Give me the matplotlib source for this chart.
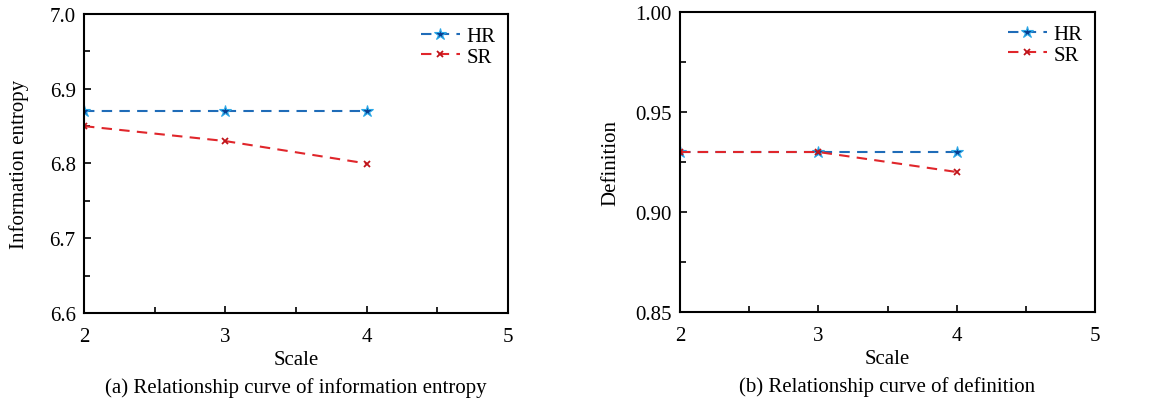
import matplotlib
matplotlib.use("Agg")
import matplotlib.pyplot as plt
from matplotlib.ticker import MultipleLocator, FormatStrFormatter

plt.rcParams['font.family'] = ['Liberation Serif', 'DejaVu Serif']

scales = [2, 3, 4]
hr_entropy = [6.87, 6.87, 6.87]
sr_entropy = [6.85, 6.83, 6.80]
hr_def = [0.93, 0.93, 0.93]
sr_def = [0.93, 0.93, 0.92]

blue = '#1f6cb8'
red = '#e0262b'
FS = 15

fig = plt.figure(figsize=(11.52, 4.02), dpi=100)
ax1 = fig.add_axes([84/1152, 1-314/402, (508-84)/1152, (314-15)/402])
ax2 = fig.add_axes([680/1152, 1-313/402, (1095-680)/1152, (313-13)/402])

def style(ax, ylim, ymajor, yminor, yfmt, ylabel, caption, ylabelpad):
    ax.set_xlim(2, 5)
    ax.set_ylim(*ylim)
    ax.xaxis.set_major_locator(MultipleLocator(1))
    ax.xaxis.set_minor_locator(MultipleLocator(0.5))
    ax.yaxis.set_major_locator(MultipleLocator(ymajor))
    ax.yaxis.set_minor_locator(MultipleLocator(yminor))
    ax.yaxis.set_major_formatter(FormatStrFormatter(yfmt))
    ax.tick_params(which='both', direction='in', top=False, right=False, labelsize=FS, width=1.2)
    ax.tick_params(which='major', length=5)
    ax.tick_params(which='minor', length=4)
    ax.tick_params(axis='x', which='major', pad=10)
    ax.tick_params(axis='y', which='major', pad=6)
    for s in ax.spines.values():
        s.set_linewidth(1.5)
    ax.set_xlabel('Scale', fontsize=FS, labelpad=3)
    ax.set_ylabel(ylabel, fontsize=FS, labelpad=ylabelpad)
    ax.text(0.5, -0.215, caption, transform=ax.transAxes, ha='center', va='top', fontsize=FS)

def draw(ax, hr, sr):
    ax.plot(scales, hr, linestyle=(0, (5, 3.5)), color=blue, lw=1.5, marker='*',
            markersize=9, markerfacecolor='#0a3d8f', markeredgecolor='#2aa8e8', markeredgewidth=0.8, label='HR')
    ax.plot(scales, sr, linestyle=(0, (5, 3.5)), color=red, lw=1.5, marker='x',
            markersize=5, markeredgecolor='#c0141a', markeredgewidth=1.3, label='SR')
    ax.legend(loc='upper right', frameon=False, fontsize=FS, handlelength=1.9,
              handletextpad=0.3, labelspacing=0.05, borderaxespad=0.3, borderpad=0.3)

draw(ax1, hr_entropy, sr_entropy)
style(ax1, (6.6, 7.0), 0.1, 0.05, '%.1f', 'Information entropy', '(a) Relationship curve of information entropy', 15)
draw(ax2, hr_def, sr_def)
style(ax2, (0.85, 1.0), 0.05, 0.025, '%.2f', 'Definition', '(b) Relationship curve of definition', 11)

fig.savefig('out.png', dpi=100)
